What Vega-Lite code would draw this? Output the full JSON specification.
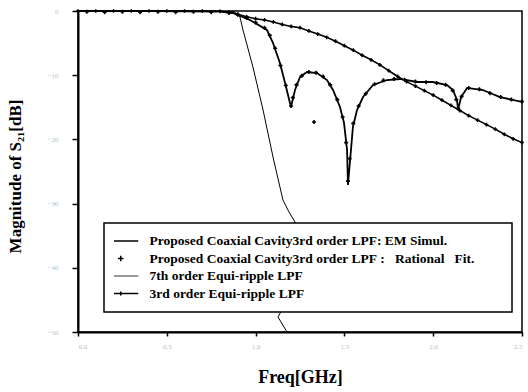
{
  "$schema": "https://vega.github.io/schema/vega-lite/v6.json",
  "autosize": "none",
  "width": 444,
  "height": 321,
  "padding": {"left": 78, "top": 11, "right": 6, "bottom": 60},
  "background": "white",
  "config": {
    "view": {"stroke": "black", "strokeWidth": 1.5},
    "axis": {"domainColor": "black", "domainWidth": 2, "tickColor": "black", "tickWidth": 1.5, "grid": false, "labelColor": "#bbbbbb", "labelFontSize": 7, "labelFont": "Liberation Serif", "titleFont": "Liberation Serif", "titleFontWeight": "bold", "titleColor": "black"}
  },
  "data": {"values": [
    {"s":"EM","f":0,"m":0},{"s":"EM","f":0.4,"m":0},{"s":"EM","f":0.8,"m":-0.1},{"s":"EM","f":0.873,"m":-0.31},{"s":"EM","f":0.968,"m":-1.4},{"s":"EM","f":1.064,"m":-2.96},{"s":"EM","f":1.098,"m":-4.98},{"s":"EM","f":1.137,"m":-8.1},{"s":"EM","f":1.166,"m":-11.21},{"s":"EM","f":1.199,"m":-14.95},{"s":"EM","f":1.222,"m":-12.31},{"s":"EM","f":1.25,"m":-10.28},{"s":"EM","f":1.289,"m":-9.5},{"s":"EM","f":1.346,"m":-9.66},{"s":"EM","f":1.402,"m":-10.75},{"s":"EM","f":1.436,"m":-12.31},{"s":"EM","f":1.475,"m":-14.95},{"s":"EM","f":1.498,"m":-17.45},{"s":"EM","f":1.515,"m":-21.65},{"s":"EM","f":1.52,"m":-27.1},{"s":"EM","f":1.537,"m":-21.65},{"s":"EM","f":1.548,"m":-18.07},{"s":"EM","f":1.571,"m":-15.42},{"s":"EM","f":1.605,"m":-13.4},{"s":"EM","f":1.661,"m":-11.53},{"s":"EM","f":1.74,"m":-10.75},{"s":"EM","f":1.813,"m":-10.59},{"s":"EM","f":1.909,"m":-11.06},{"s":"EM","f":1.999,"m":-11.06},{"s":"EM","f":2.078,"m":-11.53},{"s":"EM","f":2.111,"m":-12.31},{"s":"EM","f":2.134,"m":-13.86},{"s":"EM","f":2.14,"m":-15.42},{"s":"EM","f":2.157,"m":-13.4},{"s":"EM","f":2.191,"m":-11.99},{"s":"EM","f":2.28,"m":-12.31},{"s":"EM","f":2.376,"m":-13.4},{"s":"EM","f":2.5,"m":-14.17},

    {"s":"RF","f":0.05,"m":-0.1},{"s":"RF","f":0.15,"m":-0.2},{"s":"RF","f":0.25,"m":-0.1},{"s":"RF","f":0.35,"m":-0.2},{"s":"RF","f":0.45,"m":-0.1},{"s":"RF","f":0.55,"m":-0.2},{"s":"RF","f":0.65,"m":-0.1},{"s":"RF","f":0.75,"m":-0.2},{"s":"RF","f":0.85,"m":-0.3},
    {"s":"RF","f":0.9,"m":-0.6},{"s":"RF","f":0.95,"m":-1.1},{"s":"RF","f":1.0,"m":-1.8},{"s":"RF","f":1.05,"m":-2.6},{"s":"RF","f":1.08,"m":-3.8},{"s":"RF","f":1.11,"m":-5.8},{"s":"RF","f":1.14,"m":-8.5},{"s":"RF","f":1.17,"m":-11.6},{"s":"RF","f":1.2,"m":-14.8},{"s":"RF","f":1.21,"m":-13.5},{"s":"RF","f":1.23,"m":-11.5},{"s":"RF","f":1.26,"m":-10.1},{"s":"RF","f":1.3,"m":-9.5},{"s":"RF","f":1.34,"m":-9.6},{"s":"RF","f":1.38,"m":-10.2},{"s":"RF","f":1.42,"m":-11.5},{"s":"RF","f":1.46,"m":-13.8},{"s":"RF","f":1.49,"m":-16.5},{"s":"RF","f":1.51,"m":-20.5},{"s":"RF","f":1.52,"m":-26.5},{"s":"RF","f":1.53,"m":-23},{"s":"RF","f":1.55,"m":-17.5},{"s":"RF","f":1.58,"m":-14.8},{"s":"RF","f":1.62,"m":-12.9},{"s":"RF","f":1.67,"m":-11.4},{"s":"RF","f":1.72,"m":-10.8},{"s":"RF","f":1.78,"m":-10.6},{"s":"RF","f":1.84,"m":-10.7},{"s":"RF","f":1.9,"m":-11},{"s":"RF","f":1.96,"m":-11.1},{"s":"RF","f":2.02,"m":-11.2},{"s":"RF","f":2.07,"m":-11.5},{"s":"RF","f":2.11,"m":-12.4},{"s":"RF","f":2.13,"m":-13.8},{"s":"RF","f":2.14,"m":-15.2},{"s":"RF","f":2.16,"m":-13.3},{"s":"RF","f":2.2,"m":-12},{"s":"RF","f":2.26,"m":-12.2},{"s":"RF","f":2.32,"m":-12.8},{"s":"RF","f":2.38,"m":-13.4},{"s":"RF","f":2.44,"m":-13.8},{"s":"RF","f":2.5,"m":-14.1},{"s":"RF","f":1.329,"m":-17.29},

    {"s":"7th","f":0,"m":0},{"s":"7th","f":0.5,"m":0},{"s":"7th","f":0.88,"m":-0.1},{"s":"7th","f":0.912,"m":-0.93},{"s":"7th","f":0.929,"m":-2.96},{"s":"7th","f":0.985,"m":-8.72},{"s":"7th","f":1.042,"m":-15.42},{"s":"7th","f":1.098,"m":-22.74},{"s":"7th","f":1.154,"m":-29.44},{"s":"7th","f":1.188,"m":-31.3},{"s":"7th","f":1.222,"m":-32.87},{"s":"7th","f":1.25,"m":-37.2},{"s":"7th","f":1.2,"m":-44},{"s":"7th","f":1.126,"m":-47.66},{"s":"7th","f":1.177,"m":-50},

    {"s":"3rd","f":0,"m":0},{"s":"3rd","f":0.1,"m":0},{"s":"3rd","f":0.2,"m":0},{"s":"3rd","f":0.3,"m":0},{"s":"3rd","f":0.4,"m":0},{"s":"3rd","f":0.5,"m":0},{"s":"3rd","f":0.6,"m":0},{"s":"3rd","f":0.7,"m":0},{"s":"3rd","f":0.8,"m":-0.05},{"s":"3rd","f":0.85,"m":-0.2},{"s":"3rd","f":0.9,"m":-0.5},{"s":"3rd","f":0.95,"m":-0.9},{"s":"3rd","f":1.0,"m":-1.2},{"s":"3rd","f":1.05,"m":-1.4},{"s":"3rd","f":1.1,"m":-1.7},{"s":"3rd","f":1.15,"m":-2.1},{"s":"3rd","f":1.2,"m":-2.4},{"s":"3rd","f":1.25,"m":-2.6},{"s":"3rd","f":1.3,"m":-3.1},{"s":"3rd","f":1.35,"m":-3.6},{"s":"3rd","f":1.4,"m":-4.1},{"s":"3rd","f":1.45,"m":-4.7},{"s":"3rd","f":1.5,"m":-5.4},{"s":"3rd","f":1.55,"m":-6.1},{"s":"3rd","f":1.6,"m":-6.9},{"s":"3rd","f":1.65,"m":-7.6},{"s":"3rd","f":1.7,"m":-8.4},{"s":"3rd","f":1.75,"m":-9.3},{"s":"3rd","f":1.8,"m":-10.2},{"s":"3rd","f":1.85,"m":-11.0},{"s":"3rd","f":1.9,"m":-11.7},{"s":"3rd","f":1.95,"m":-12.4},{"s":"3rd","f":2.0,"m":-13.1},{"s":"3rd","f":2.05,"m":-13.9},{"s":"3rd","f":2.1,"m":-14.7},{"s":"3rd","f":2.15,"m":-15.5},{"s":"3rd","f":2.2,"m":-16.3},{"s":"3rd","f":2.25,"m":-17.0},{"s":"3rd","f":2.3,"m":-17.7},{"s":"3rd","f":2.35,"m":-18.4},{"s":"3rd","f":2.4,"m":-19.2},{"s":"3rd","f":2.45,"m":-19.9},{"s":"3rd","f":2.5,"m":-20.5}
  ]},
  "encoding": {
    "x": {"field": "f", "type": "quantitative", "scale": {"domain": [0, 2.5], "nice": false},
      "axis": {"values": [0, 0.5, 1, 1.5, 2, 2.5], "format": ".1f", "tickSize": 4, "labelPadding": 6, "title": "Freq[GHz]", "titleFontSize": 18, "titleY": 36, "titleBaseline": "top"}},
    "y": {"field": "m", "type": "quantitative", "scale": {"domain": [-50, 0], "nice": false},
      "axis": {"values": [-50, -40, -30, -20, -10, 0], "tickSize": 6, "labelPadding": 14, "title": "Magnitude of S₂₁[dB]", "titleFontSize": 17, "titleX": -54, "titleY": 165, "titleAngle": -90, "titleBaseline": "bottom"}},
    "color": {"field": "s", "type": "nominal",
      "scale": {"domain": ["EM", "RF", "7th", "3rd"], "range": ["black", "black", "black", "black"]},
      "legend": {
        "title": null, "orient": "none", "legendX": 26, "legendY": 212, "zindex": 5,
        "strokeColor": "black", "fillColor": "white", "padding": 10,
        "symbolSize": 900, "symbolType": "stroke", "clipHeight": 16, "rowPadding": 1.5,
        "labelFont": "Liberation Serif", "labelFontWeight": "bold", "labelFontSize": 13.5, "labelColor": "black", "labelLimit": 0, "labelOffset": 22,
        "labelExpr": "datum.value == 'EM' ? 'Proposed Coaxial Cavity3rd order LPF: EM Simul.' : datum.value == 'RF' ? 'Proposed Coaxial Cavity3rd order LPF\u00a0:\u00a0\u00a0\u00a0Rational\u00a0\u00a0\u00a0Fit.\u00a0\u00a0\u00a0\u00a0\u00a0\u00a0\u00a0\u00a0\u200b' : datum.value == '7th' ? '7th order Equi-ripple LPF' : '3rd order Equi-ripple LPF'",
        "encode": {
          "legend": {"update": {"strokeWidth": {"value": 1.5}}},
          "symbols": {"update": {
            "shape": {"signal": "datum.value == 'RF' ? 'M-1,0H1M0,-1V1' : datum.value == '3rd' ? 'M-1,0H1M0,-0.11V0.11' : 'M-1,0H1'"},
            "size": {"signal": "datum.value == 'RF' ? 30 : 1225"},
            "strokeWidth": {"signal": "datum.value == '7th' ? 0.8 : 1.5"},
            "stroke": {"value": "black"},
            "fill": {"value": "transparent"},
            "opacity": {"value": 1}
          }}
        }
      }},
    "order": {"value": null}
  },
  "layer": [
    {"transform": [{"filter": "datum.s == 'EM'"}], "mark": {"type": "line", "strokeWidth": 1.8}},
    {"transform": [{"filter": "datum.s == '7th'"}], "mark": {"type": "line", "strokeWidth": 1}},
    {"transform": [{"filter": "datum.s == '3rd'"}], "mark": {"type": "line", "strokeWidth": 1.6, "point": {"shape": "cross", "size": 14, "filled": true, "color": "black"}}},
    {"transform": [{"filter": "datum.s == 'RF'"}], "mark": {"type": "point", "shape": "cross", "size": 16, "filled": true, "opacity": 1}}
  ]
}
